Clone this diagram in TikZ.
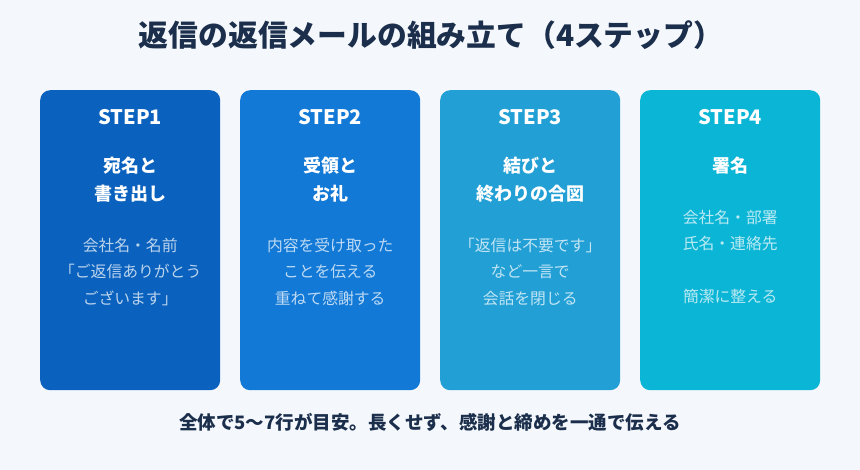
\documentclass[tikz,border=0pt]{standalone}
\usepackage{fontspec}
\setmainfont{Noto Sans CJK JP}
\usetikzlibrary{positioning}
\definecolor{bgcol}{HTML}{F4F8FC}
\definecolor{navy}{HTML}{1B2E4B}
\definecolor{cardA}{HTML}{0A62BE}
\definecolor{cardB}{HTML}{1279D6}
\definecolor{cardC}{HTML}{22A0D6}
\definecolor{cardD}{HTML}{0BB5D6}
\tikzset{
  card/.style={rounded corners=10pt, minimum width=180pt, minimum height=300pt, inner sep=0pt},
  steplabel/.style={text=white, font=\fontsize{20}{22}\selectfont\bfseries},
  heading/.style={text=white, align=center, inner sep=0pt, font=\fontsize{18}{28}\selectfont\bfseries},
  bodytext/.style={text=white, text opacity=0.72, align=center, inner sep=0pt, font=\fontsize{15.8}{26.5}\selectfont}
}
\begin{document}
\begin{tikzpicture}[x=1pt, y=-1pt]
\fill[bgcol] (0,0) rectangle (860,470);
\useasboundingbox (0,0) rectangle (860,470);
\node[text=navy, font=\fontsize{29.8}{34}\selectfont\bfseries] (title) at (431,35) {返信の返信メールの組み立て（4ステップ）};
% four cards
\foreach \i/\col/\st/\hd/\bd in {
  1/cardA/STEP1/{宛名と\\書き出し}/{会社名・名前\\「ご返信ありがとう\\ございます」},
  2/cardB/STEP2/{受領と\\お礼}/{内容を受け取った\\ことを伝える\\重ねて感謝する},
  3/cardC/STEP3/{結びと\\終わりの合図}/{「返信は不要です」\\など一言で\\会話を閉じる},
  4/cardD/STEP4/{署名}/{会社名・部署\\氏名・連絡先\\\\簡潔に整える}}
{
  \node[card, fill=\col, anchor=north west] (card\i) at ({40+200*(\i-1)},90) {};
  \node[steplabel, anchor=north] (step\i) at ([yshift=-16pt]card\i.north) {\st};
  \node[heading, anchor=north] (head\i) at ([yshift=-67pt]card\i.north) {\hd};
  \node[bodytext, anchor=north] (body\i) at ([yshift=-35pt]head\i.south) {\bd};
}
\node[text=navy, font=\fontsize{18.5}{22}\selectfont\bfseries] (note) at (430,422) {全体で5〜7行が目安。長くせず、感謝と締めを一通で伝える};
\end{tikzpicture}
\end{document}
